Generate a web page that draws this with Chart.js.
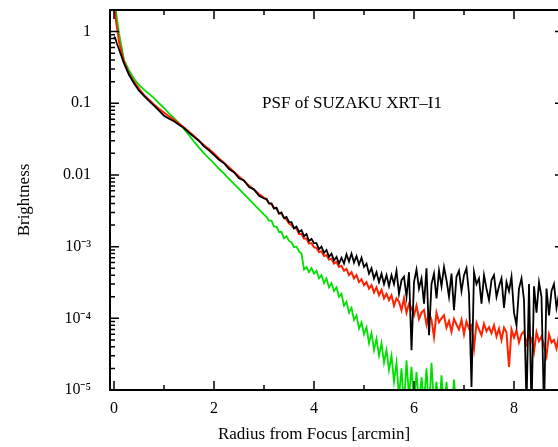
<!DOCTYPE html>
<html>
<head>
<meta charset="utf-8">
<script src="https://cdn.jsdelivr.net/npm/chart.js@4.4.0/dist/chart.umd.min.js"></script>
<style>
  html, body { margin: 0; padding: 0; background: #fff; overflow: hidden; }
  #wrap { width: 570px; height: 447px; }
</style>
</head>
<body>
<div id="wrap"><canvas id="psf" width="570" height="447"></canvas></div>
<script>
// radius from focus [arcmin]
const radius = [
  0, 0.02, 0.04, 0.06, 0.08,
  0.1, 0.2, 0.3, 0.4, 0.5, 0.6, 0.7, 0.8, 0.9, 1.0,
  1.1, 1.2, 1.3, 1.4, 1.5, 1.6, 1.7, 1.8, 1.9, 2.0,
  2.1, 2.2, 2.3, 2.4, 2.5, 2.6, 2.7, 2.8, 2.9, 3.0,
  3.05, 3.1, 3.15, 3.2, 3.25, 3.3, 3.35, 3.4, 3.45, 3.5,
  3.55, 3.6, 3.65, 3.7, 3.75, 3.8, 3.85, 3.9, 3.95, 4.0,
  4.05, 4.1, 4.15, 4.2, 4.25, 4.3, 4.35, 4.4, 4.45, 4.5,
  4.55, 4.6, 4.65, 4.7, 4.75, 4.8, 4.85, 4.9, 4.95, 5.0,
  5.05, 5.1, 5.15, 5.2, 5.25, 5.3, 5.35, 5.4, 5.45, 5.5,
  5.55, 5.6, 5.65, 5.7, 5.75, 5.8, 5.85, 5.9, 5.95, 6.0,
  6.05, 6.1, 6.15, 6.2, 6.25, 6.3, 6.35, 6.4, 6.45, 6.5,
  6.55, 6.6, 6.65, 6.7, 6.75, 6.8, 6.85, 6.9, 6.95, 7.0,
  7.05, 7.1, 7.15, 7.2, 7.25, 7.3, 7.35, 7.4, 7.45, 7.5,
  7.55, 7.6, 7.65, 7.7, 7.75, 7.8, 7.85, 7.9, 7.95, 8.0,
  8.05, 8.1, 8.15, 8.2, 8.25, 8.3, 8.35, 8.4, 8.45, 8.5,
  8.55, 8.6, 8.65, 8.7, 8.75, 8.8, 8.85, 8.9, 8.95, 9.0
];

// black curve
const blackVals = [
  0.85, 0.82, 0.75, 0.67, 0.62,
  0.57, 0.36, 0.25, 0.19, 0.15, 0.127, 0.108, 0.093, 0.079, 0.067,
  0.061, 0.056, 0.050, 0.045, 0.039, 0.034, 0.030, 0.025, 0.022, 0.019,
  0.0163, 0.0146, 0.0121, 0.0109, 0.0090, 0.0084, 0.0068, 0.0063, 0.0051, 0.0047,
  0.0046, 0.0040, 0.0040, 0.0034, 0.0035, 0.0029, 0.0030, 0.0025, 0.0026, 0.0022,
  0.0022, 0.0018, 0.0019, 0.0016, 0.0017, 0.0014, 0.0015, 0.0012, 0.00128, 0.00112,
  0.00112, 0.00092, 0.00100, 0.00082, 0.00090, 0.00072, 0.00080, 0.00064, 0.00072, 0.00058,
  0.00070, 0.00058, 0.00078, 0.00062, 0.00080, 0.00060, 0.00074, 0.00056, 0.00070, 0.00052,
  0.00058, 0.00042, 0.00050, 0.00036, 0.00044, 0.00032, 0.00042, 0.00030, 0.00040, 0.00028,
  0.00040, 0.00030, 0.00046, 0.00022, 0.00034, 0.00038, 0.00020, 0.00044, 0.000036, 0.00032,
  0.00048, 0.00026, 0.00036, 0.00016, 0.00050, 0.000058, 0.00030, 0.00042, 0.00019, 0.00046,
  0.00028, 0.00052, 0.00034, 0.00020, 0.00042, 0.00013, 0.00038, 0.00046, 0.00024, 0.00040,
  0.00050, 0.00022, 0.000011, 0.00044, 0.00030, 0.00036, 0.00016, 0.00040, 0.00026, 0.00018,
  0.00034, 0.00040, 0.00020, 0.00028, 0.00036, 0.00014, 0.00032, 0.00024, 0.00038, 0.00012,
  0.00008, 0.00026, 0.00036, 0.00018, 0.000006, 0.00030, 0.000005, 0.00028, 0.00012, 0.00032,
  0.00020, 0.000005, 0.00026, 0.00011, 0.00024, 0.00030, 0.00014, 0.00022, 0.00028, 0.00017
];

// red curve
const redVals = [
  4.0, 2.0, 1.4, 1.12, 0.92,
  0.72, 0.38, 0.26, 0.20, 0.16, 0.13, 0.112, 0.096, 0.084, 0.074,
  0.066, 0.059, 0.052, 0.046, 0.040, 0.035, 0.030, 0.026, 0.023, 0.020,
  0.017, 0.0148, 0.0128, 0.011, 0.0095, 0.0083, 0.0071, 0.0062, 0.0054, 0.0048,
  0.0046, 0.0040, 0.0039, 0.0035, 0.0034, 0.0029, 0.0029, 0.0025, 0.0024, 0.0021,
  0.0020, 0.0018, 0.0018, 0.0015, 0.0015, 0.0013, 0.0013, 0.0011, 0.00112, 0.00098,
  0.00096, 0.00084, 0.00086, 0.00074, 0.00076, 0.00066, 0.00068, 0.00058, 0.00061, 0.00052,
  0.00054, 0.00046, 0.00049, 0.00040, 0.00044, 0.00036, 0.00040, 0.00032, 0.00035, 0.00029,
  0.00032, 0.00026, 0.00029, 0.00023, 0.00027, 0.00021, 0.00025, 0.00019, 0.00022, 0.00018,
  0.00021, 0.00015, 0.00019, 0.00017, 0.00013, 0.00019, 0.00012, 0.00016, 0.00014, 0.00011,
  0.00015, 0.000098, 0.00012, 0.00013, 0.000082, 0.00012, 0.000095, 0.000055, 0.00012, 0.000088,
  0.000100, 0.000110, 0.000074, 0.000092, 0.000065, 0.000098, 0.000082, 0.000070, 0.000095, 0.000060,
  0.000090, 0.000072, 0.000080, 0.000038, 0.000086, 0.000070, 0.000058, 0.000084, 0.000066, 0.000075,
  0.000062, 0.000080, 0.000056, 0.000072, 0.000050, 0.000074, 0.000064, 0.000021, 0.000070, 0.000054,
  0.000068, 0.000046, 0.000060, 0.000066, 0.000044, 0.000058, 0.000052, 0.000034, 0.000064, 0.000048,
  0.000056, 0.000042, 0.000030, 0.000060, 0.000046, 0.000050, 0.000038, 0.000058, 0.000040, 0.000052
];

// green curve (ends near 6.85 arcmin)
const greenVals = [
  4.0, 2.6, 1.9, 1.5, 1.2,
  0.95, 0.40, 0.29, 0.22, 0.18, 0.155, 0.135, 0.118, 0.10, 0.086,
  0.072, 0.062, 0.053, 0.044, 0.036, 0.029, 0.024, 0.020, 0.017, 0.0145,
  0.0122, 0.0104, 0.0088, 0.0075, 0.0064, 0.0054, 0.0046, 0.0039, 0.0033, 0.0028,
  0.0026, 0.0023, 0.0023, 0.0019, 0.0019, 0.0016, 0.0016, 0.0013, 0.0014, 0.0012,
  0.00115, 0.00098, 0.00100, 0.00086, 0.00080, 0.00048, 0.00052, 0.00044, 0.00050, 0.00042,
  0.00046, 0.00036, 0.00040, 0.00031, 0.00036, 0.00027, 0.00031, 0.00024, 0.00027, 0.00020,
  0.00022, 0.00015, 0.00017, 0.00012, 0.00014, 0.000095, 0.00011, 0.000072, 0.000088, 0.000060,
  0.000075, 0.000045, 0.000062, 0.000036, 0.000052, 0.000030, 0.000045, 0.000024, 0.000036, 0.000019,
  0.000030, 0.000013, 0.000024, 0.0000080, 0.000020, 0.0000060, 0.000026, 0.0000080, 0.000021, 0.0000060,
  0.000018, 0.0000060, 0.000015, 0.0000070, 0.000020, 0.0000050, 0.000024, 0.0000060, 0.000013, 0.0000050,
  0.000016, 0.0000050, 0.000013, 0.0000050, 0.0000050, 0.000014, 0.0000050
];

// axis ticks
const tickDecades = [1e-5, 1e-4, 1e-3, 0.01, 0.1, 1];
const tickLabels = ['10\u207B\u2075', '10\u207B\u2074', '10\u207B\u00B3', '0.01', '0.1', '1'];
const xTicks = [0, 1, 2, 3, 4, 5, 6, 7, 8];
const xTickLabels = ['0', '', '2', '', '4', '', '6', '', '8'];

const plotTitle = 'PSF of SUZAKU XRT\u2013I1';
const xTitle = 'Radius from Focus [arcmin]';
const yTitle = 'Brightness';

const serif = '"Liberation Serif", "Times New Roman", serif';

function toPoints(vals) {
    return vals.map((v, i) => ({ x: radius[i], y: v }));
}

// frame, inward ticks and titles
const frameTicks = {
    id: 'frameTicks',
    afterDraw(chart) {
        const { ctx, chartArea: a, scales: { x, y } } = chart;
        ctx.save();
        ctx.strokeStyle = '#000';
        ctx.lineWidth = 1.5;
        y.ticks.forEach(t => {
            const py = y.getPixelForValue(t.value);
            const len = tickDecades.includes(t.value) ? 9 : 5;
            ctx.beginPath();
            ctx.moveTo(a.left, py); ctx.lineTo(a.left + len, py);
            ctx.moveTo(a.right, py); ctx.lineTo(a.right - len, py);
            ctx.stroke();
        });
        x.ticks.forEach(t => {
            const px = x.getPixelForValue(t.value);
            const len = t.value % 2 === 0 ? 9 : 5;
            ctx.beginPath();
            ctx.moveTo(px, a.bottom); ctx.lineTo(px, a.bottom - len);
            ctx.moveTo(px, a.top); ctx.lineTo(px, a.top + len);
            ctx.stroke();
        });
        ctx.lineWidth = 2;
        ctx.strokeRect(a.left, a.top, a.right - a.left, a.bottom - a.top);

        ctx.fillStyle = '#000';
        ctx.font = '17px ' + serif;
        ctx.textAlign = 'center';
        ctx.textBaseline = 'middle';
        ctx.fillText(plotTitle, 352, 104);
        ctx.fillText(xTitle, 314, 435);
        ctx.translate(25, 200);
        ctx.rotate(-Math.PI / 2);
        ctx.fillText(yTitle, 0, 0);
        ctx.restore();
    }
};

const ctx = document.getElementById('psf').getContext('2d');
new Chart(ctx, {
    type: 'line',
    data: {
        datasets: [
            { label: 'black', data: toPoints(blackVals), borderColor: '#000000', borderWidth: 1.8 },
            { label: 'red', data: toPoints(redVals), borderColor: '#ff2200', borderWidth: 2 },
            { label: 'green', data: toPoints(greenVals), borderColor: '#00e000', borderWidth: 1.8 }
        ]
    },
    options: {
        responsive: false,
        animation: false,
        devicePixelRatio: 1,
        layout: { padding: { top: 10, right: 6, left: 0, bottom: 0 } },
        elements: { point: { radius: 0 }, line: { tension: 0 } },
        plugins: { legend: { display: false }, tooltip: { enabled: false } },
        scales: {
            x: {
                type: 'linear',
                min: -0.08,
                max: 9,
                grid: { display: false, drawTicks: false },
                border: { display: false },
                afterBuildTicks: scale => {
                    scale.ticks = xTicks.map(v => ({ value: v }));
                },
                afterFit: scale => {
                    scale.height = 57;
                    scale.paddingLeft = 0;
                    scale.paddingRight = 0;
                },
                ticks: {
                    autoSkip: false,
                    maxRotation: 0,
                    padding: 9,
                    color: '#000',
                    font: { family: serif, size: 16 },
                    callback: (v, i) => xTickLabels[i]
                }
            },
            y: {
                type: 'logarithmic',
                min: 1e-5,
                max: 2,
                grid: { display: false, drawTicks: false },
                border: { display: false },
                afterBuildTicks: scale => {
                    const list = [];
                    tickDecades.forEach(d => {
                        list.push({ value: d });
                        if (d < 1) {
                            for (let m = 2; m <= 9; m++) list.push({ value: d * m });
                        }
                    });
                    scale.ticks = list;
                },
                afterFit: scale => {
                    scale.width = 110;
                    scale.paddingTop = 0;
                    scale.paddingBottom = 0;
                },
                ticks: {
                    autoSkip: false,
                    padding: 19,
                    color: '#000',
                    font: { family: serif, size: 16 },
                    callback: v => {
                        const k = tickDecades.indexOf(v);
                        return k >= 0 ? tickLabels[k] : '';
                    }
                }
            }
        }
    },
    plugins: [frameTicks]
});
</script>
</body>
</html>
